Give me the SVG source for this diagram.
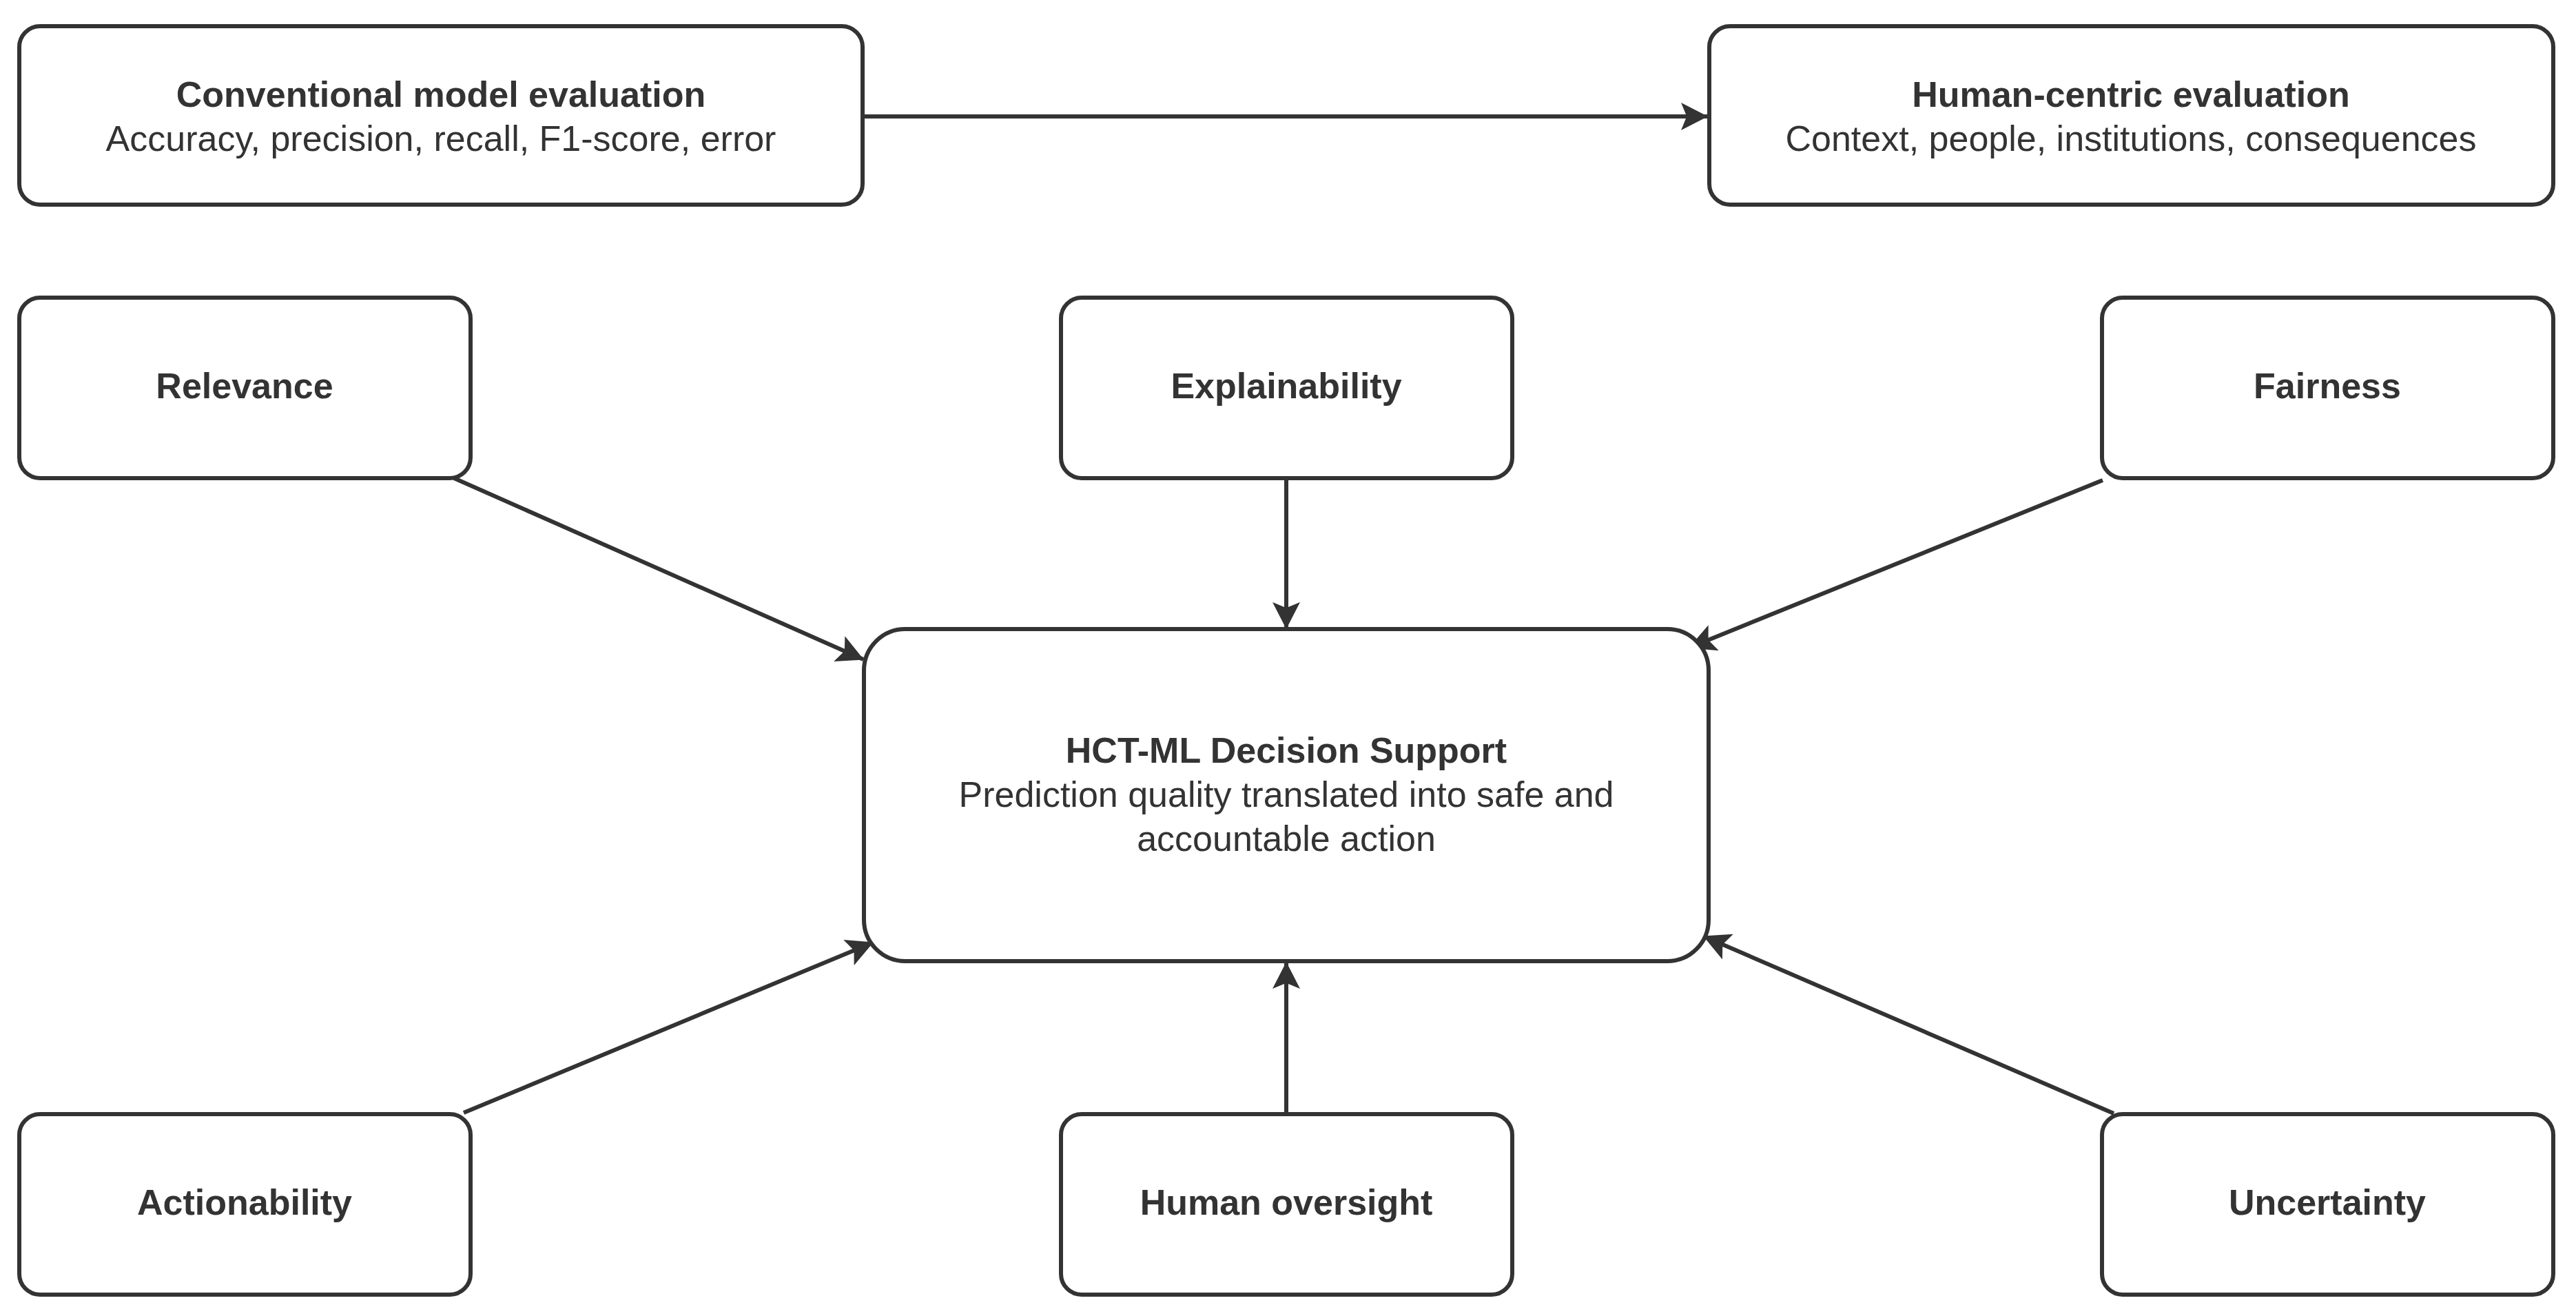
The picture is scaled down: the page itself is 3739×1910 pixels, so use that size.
<svg xmlns="http://www.w3.org/2000/svg" width="3739" height="1910" viewBox="0 0 3739 1910">
  <style>
    .box { fill: #ffffff; stroke: #333333; stroke-width: 6; }
    .t { font-family: "Liberation Sans", Arial, Helvetica, sans-serif; font-size: 52px; fill: #333333; text-anchor: middle; }
    .b { font-weight: bold; }
    .edge { stroke: #333333; stroke-width: 6; fill: none; marker-end: url(#arrow); }
  </style>
  <defs>
    <marker id="arrow" markerUnits="userSpaceOnUse" markerWidth="40" markerHeight="40" viewBox="0 0 38 39" refX="37" refY="19.5" orient="auto">
      <path d="M0,0 L38,19.5 L0,39 L8,19.5 z" fill="#333333"/>
    </marker>
  </defs>
  <rect width="3739" height="1910" fill="#ffffff"/>

  <g id="connectors">
    <line class="edge" x1="1255" y1="169" x2="2478" y2="169"/>
    <line class="edge" x1="659" y1="694" x2="1253" y2="957"/>
    <line class="edge" x1="1867" y1="694" x2="1867" y2="912"/>
    <line class="edge" x1="3052" y1="697" x2="2452" y2="940"/>
    <line class="edge" x1="673" y1="1615" x2="1267" y2="1368"/>
    <line class="edge" x1="1867" y1="1617" x2="1867" y2="1397"/>
    <line class="edge" x1="3068" y1="1616" x2="2473" y2="1359"/>
  </g>

  <g id="conventional">
    <rect class="box" x="28" y="38" width="1224" height="259" rx="30" ry="30"/>
    <text class="t b" x="640" y="155">Conventional model evaluation</text>
    <text class="t" x="640" y="219">Accuracy, precision, recall, F1-score, error</text>
  </g>
  <g id="humancentric">
    <rect class="box" x="2481" y="38" width="1225" height="259" rx="30" ry="30"/>
    <text class="t b" x="3093" y="155">Human-centric evaluation</text>
    <text class="t" x="3093" y="219">Context, people, institutions, consequences</text>
  </g>

  <g id="relevance">
    <rect class="box" x="28" y="432" width="655" height="262" rx="30" ry="30"/>
    <text class="t b" x="355" y="578">Relevance</text>
  </g>
  <g id="explainability">
    <rect class="box" x="1540" y="432" width="655" height="262" rx="30" ry="30"/>
    <text class="t b" x="1867" y="578">Explainability</text>
  </g>
  <g id="fairness">
    <rect class="box" x="3051" y="432" width="655" height="262" rx="30" ry="30"/>
    <text class="t b" x="3378" y="578">Fairness</text>
  </g>

  <g id="hctml">
    <rect class="box" x="1254" y="913" width="1226" height="482" rx="60" ry="60"/>
    <text class="t b" x="1867" y="1107">HCT-ML Decision Support</text>
    <text class="t" x="1867" y="1171">Prediction quality translated into safe and</text>
    <text class="t" x="1867" y="1235">accountable action</text>
  </g>

  <g id="actionability">
    <rect class="box" x="28" y="1617" width="655" height="262" rx="30" ry="30"/>
    <text class="t b" x="355" y="1763">Actionability</text>
  </g>
  <g id="oversight">
    <rect class="box" x="1540" y="1617" width="655" height="262" rx="30" ry="30"/>
    <text class="t b" x="1867" y="1763">Human oversight</text>
  </g>
  <g id="uncertainty">
    <rect class="box" x="3051" y="1617" width="655" height="262" rx="30" ry="30"/>
    <text class="t b" x="3378" y="1763">Uncertainty</text>
  </g>
</svg>
